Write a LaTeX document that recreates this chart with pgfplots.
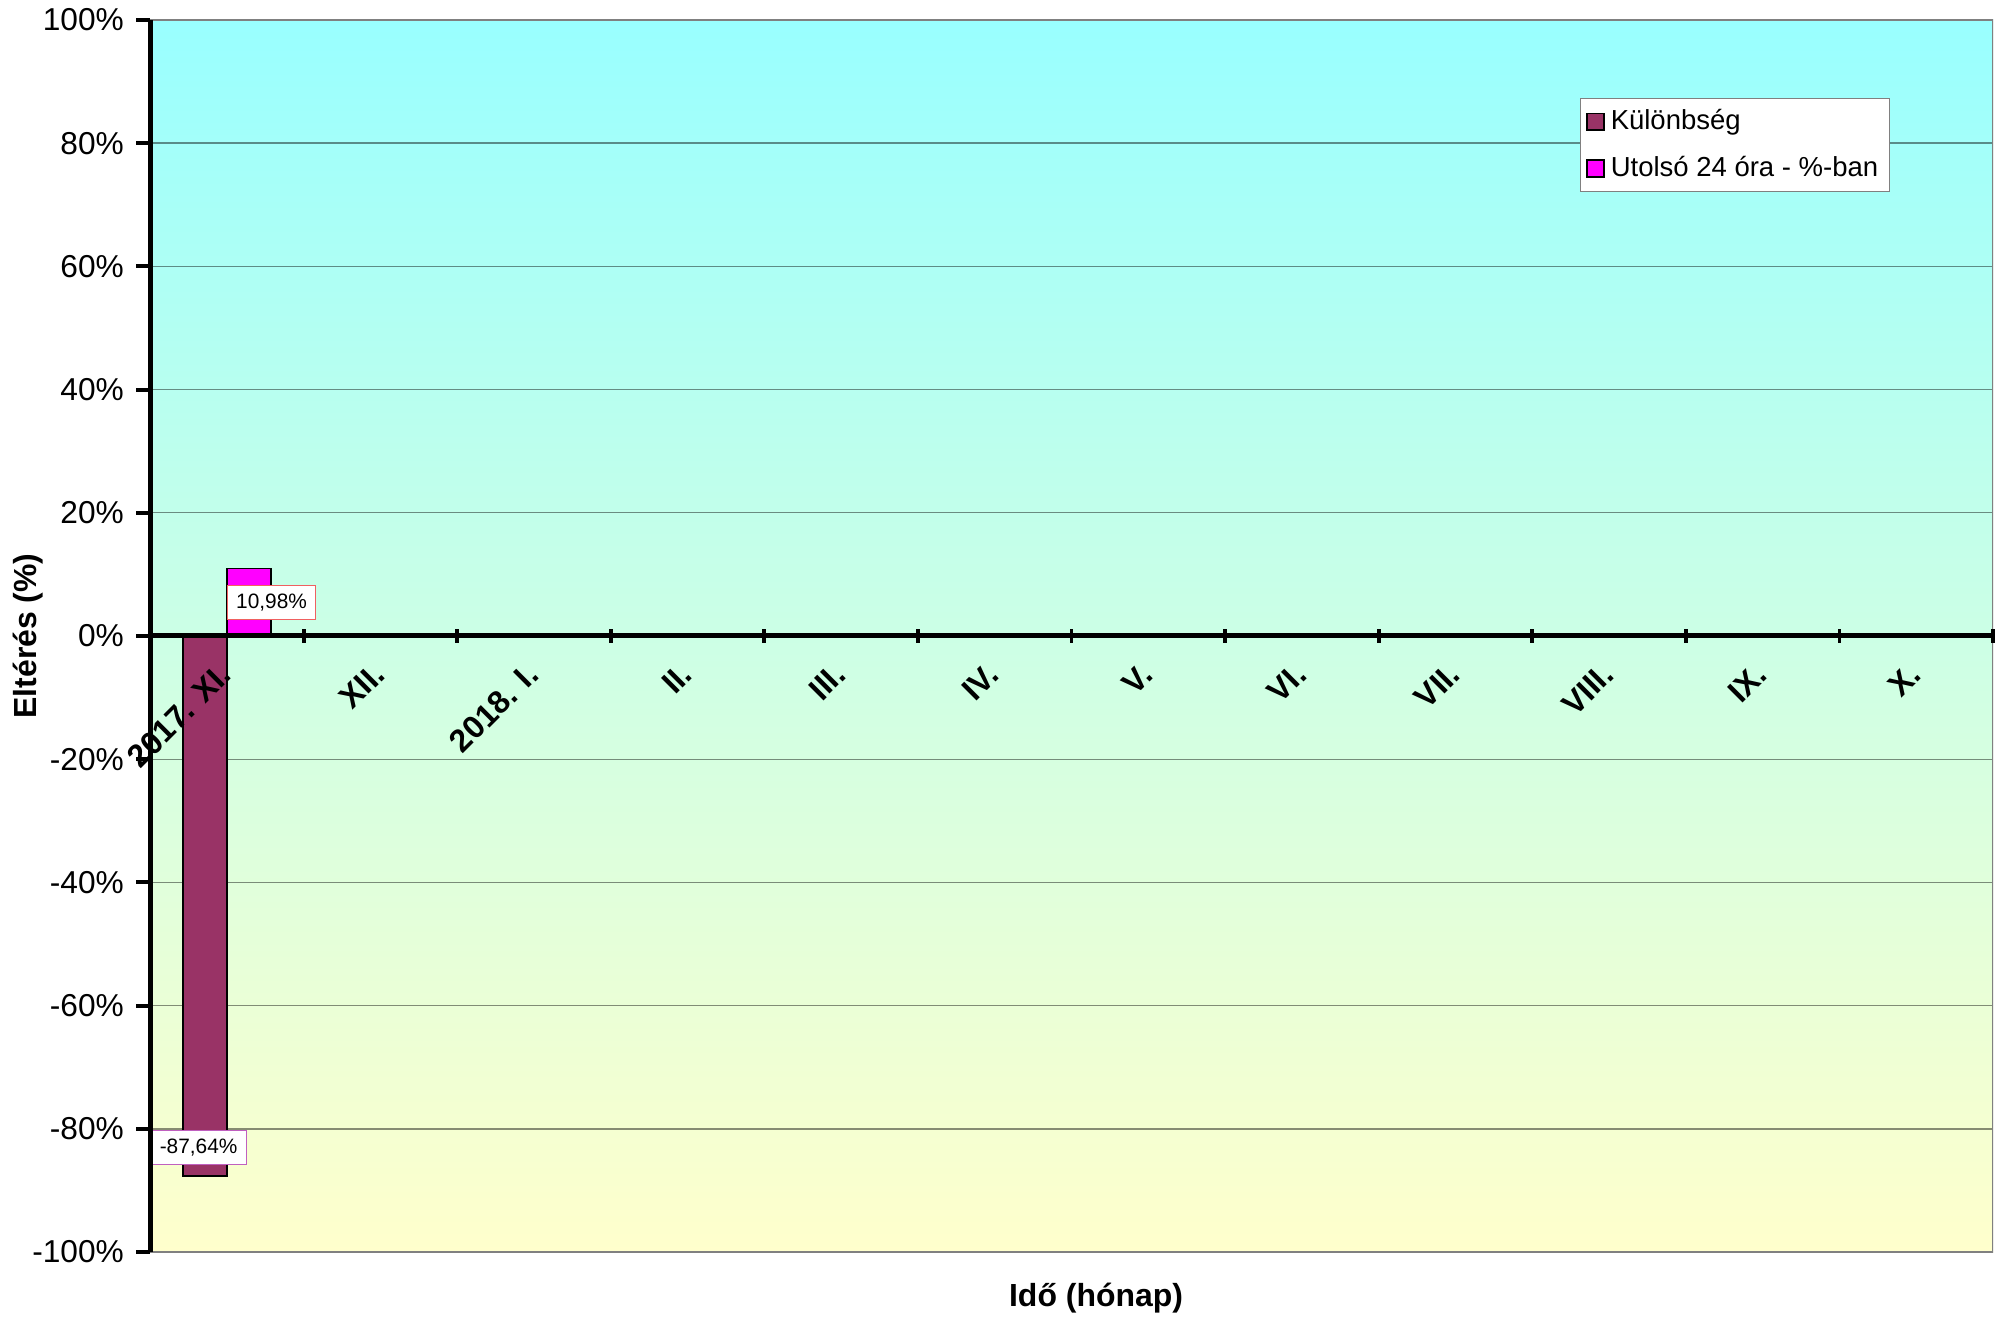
\documentclass[border=0pt]{standalone}
\usepackage{fontspec}
\setmainfont{Liberation Sans}
\usepackage{pgfplots}
\pgfplotsset{compat=1.18}
\pgfplotsset{
  /pgfplots/layers/mylayers/.define layer set={
    axis background,axis grid,main,axis ticks,axis lines,
    axis tick labels,axis descriptions,axis foreground
  }{/pgfplots/layers/standard},
}
\definecolor{kul}{HTML}{993366}
\definecolor{utol}{HTML}{FF00FF}
\definecolor{bgtop}{HTML}{99FFFF}
\definecolor{bgbot}{HTML}{FFFFCC}
\definecolor{lblA}{HTML}{C060C0}
\definecolor{lblB}{HTML}{F06060}
\begin{document}
\begin{tikzpicture}
\begin{axis}[
  name=ax,
  set layers=mylayers,
  scale only axis,
  width=663.48pt, height=443.52pt,
  xmin=-0.5, xmax=11.5,
  ymin=-100, ymax=100,
  axis background/.style={top color=bgtop, bottom color=bgbot},
  axis y line*=left,
  axis x line*=middle,
  axis line style={line width=1.8pt, black, -},
  ybar=0pt, bar width=15.84pt,
  ytick={-100,-80,...,100},
  yticklabels={-100\%,-80\%,-60\%,-40\%,-20\%,0\%,20\%,40\%,60\%,80\%,100\%},
  yticklabel style={font=\fontsize{11.4}{13}\selectfont, xshift=-0.9pt},
  xtick={0.5,1.5,...,11.5},
  xticklabels={},
  xtick align=center,
  ytick align=outside,
  major tick length=5pt,
  tick style={line width=1.4pt, black},
  ymajorgrids,
  major grid style={black, opacity=0.45, line width=0.5pt},
  extra x ticks={0,1,...,11},
  extra x tick labels={2017. XI.,XII.,2018. I.,II.,III.,IV.,V.,VI.,VII.,VIII.,IX.,X.},
  extra x tick style={major tick length=0pt, grid=none,
     xticklabel style={font=\bfseries\fontsize{11.5}{13}\selectfont, xshift=2pt, yshift=-9.5pt, rotate=45, anchor=east}},
  xlabel={Idő (hónap)},
  ylabel={Eltérés (\%)},
  every axis x label/.style={at={(axis description cs:0.5133,-0.0373)}, anchor=center, font=\bfseries\fontsize{11.5}{13}\selectfont},
  every axis y label/.style={at={(axis description cs:-0.0662,0.5)}, rotate=90, anchor=center, font=\bfseries\fontsize{11.5}{13}\selectfont},
  legend style={at={(0.776,0.9367)}, anchor=north west, draw=gray, fill=white,
     font=\fontsize{9.9}{11}\selectfont, inner xsep=2pt, inner ysep=2pt, row sep=4pt,
     nodes={inner xsep=2.2pt}},
  legend cell align=left,
]
\draw[gray, line width=0.7pt] (rel axis cs:0,0) -- (rel axis cs:1,0) -- (rel axis cs:1,1) -- (rel axis cs:0,1);
\addplot[fill=kul, draw=black, line width=0.6pt,
  legend image code/.code={\draw[fill=kul,draw=black,line width=0.6pt] (0pt,-3pt) rectangle (6pt,3pt);},
  nodes near coords={-87,64\%},
  every node near coord/.append style={draw=lblA, fill=white, line width=0.4pt, text=black,
    font=\fontsize{7.5}{9}\selectfont, inner xsep=3.2pt, inner ysep=0pt, minimum height=12.2pt,
    anchor=south west, xshift=-19.6pt, yshift=3.8pt}]
  coordinates {(0,-87.64)};
\addlegendentry{Különbség}
\addplot[fill=utol, draw=black, line width=0.6pt,
  legend image code/.code={\draw[fill=utol,draw=black,line width=0.6pt] (0pt,-3pt) rectangle (6pt,3pt);},
  nodes near coords={10,98\%},
  every node near coord/.append style={draw=lblB, fill=white, line width=0.4pt, text=black,
    font=\fontsize{7.5}{9}\selectfont, inner xsep=3.2pt, inner ysep=0pt, minimum height=12.2pt,
    anchor=north west, xshift=-7.92pt, yshift=-6.1pt}]
  coordinates {(0,10.98)};
\addlegendentry{Utolsó 24 óra - \%-ban}
\end{axis}
\pgfresetboundingbox
\path[use as bounding box] ([shift={(-54pt,-23.04pt)}]ax.south west) rectangle ([shift={(3.96pt,7.2pt)}]ax.north east);
\end{tikzpicture}
\end{document}
